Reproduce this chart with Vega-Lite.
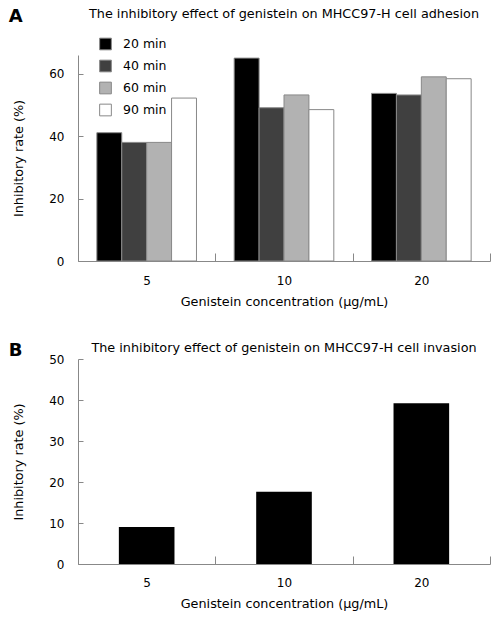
{
  "$schema": "https://vega.github.io/schema/vega-lite/v6.json",
  "background": "white",
  "padding": {"top": 8, "left": 8, "right": 5, "bottom": 5},
  "spacing": 34,
  "config": {
    "font": "DejaVu Sans",
    "view": {"stroke": null},
    "axis": {
      "domainColor": "#888888",
      "tickColor": "#888888",
      "labelColor": "black",
      "titleColor": "black",
      "labelFontSize": 12,
      "titleFontSize": 12.8,
      "titleFontWeight": "normal",
      "grid": false
    },
    "title": {"fontSize": 12.8, "fontWeight": "normal", "color": "black"}
  },
  "datasets": {
    "adhesion": [
      {"conc": "5", "time": "20 min", "rate": 41.1},
      {"conc": "5", "time": "40 min", "rate": 38.0},
      {"conc": "5", "time": "60 min", "rate": 38.0},
      {"conc": "5", "time": "90 min", "rate": 52.2},
      {"conc": "10", "time": "20 min", "rate": 65.0},
      {"conc": "10", "time": "40 min", "rate": 49.1},
      {"conc": "10", "time": "60 min", "rate": 53.2},
      {"conc": "10", "time": "90 min", "rate": 48.5},
      {"conc": "20", "time": "20 min", "rate": 53.7},
      {"conc": "20", "time": "40 min", "rate": 53.2},
      {"conc": "20", "time": "60 min", "rate": 59.0},
      {"conc": "20", "time": "90 min", "rate": 58.4}
    ],
    "invasion": [
      {"conc": "5", "rate": 9.0},
      {"conc": "10", "rate": 17.6},
      {"conc": "20", "rate": 39.2}
    ]
  },
  "vconcat": [
    {
      "title": {"text": "A", "anchor": "start", "fontSize": 18, "fontWeight": "bold", "dy": 22, "dx": -4},
      "vconcat": [
        {
          "width": 412,
          "height": 206,
          "title": {"text": "The inhibitory effect of genistein on MHCC97-H cell adhesion", "anchor": "middle", "offset": 34},
          "data": {"name": "adhesion"},
          "mark": {"type": "bar", "stroke": "#888888", "strokeWidth": 1},
          "encoding": {
            "x": {
              "field": "conc", "type": "ordinal", "sort": ["5", "10", "20"],
              "scale": {"paddingInner": 0, "paddingOuter": 0},
              "axis": {"labelAngle": 0, "tickBand": "extent", "tickSize": -8, "labelPadding": 22, "titlePadding": 9, "title": "Genistein concentration (μg/mL)"}
            },
            "xOffset": {
              "field": "time", "type": "nominal", "sort": ["20 min", "40 min", "60 min", "90 min"],
              "scale": {"paddingInner": 0, "paddingOuter": 0.757}
            },
            "y": {
              "field": "rate", "type": "quantitative",
              "scale": {"domain": [0, 66], "nice": false},
              "axis": {"values": [0, 20, 40, 60], "tickSize": -5, "labelPadding": 19, "titlePadding": 23, "title": "Inhibitory rate (%)"}
            },
            "fill": {
              "field": "time", "type": "nominal",
              "scale": {"domain": ["20 min", "40 min", "60 min", "90 min"], "range": ["#000000", "#404040", "#b2b2b2", "#ffffff"]},
              "legend": {
                "orient": "none", "legendX": 21, "legendY": -17.5, "title": null, "padding": 0,
                "symbolType": "square", "symbolSize": 137, "symbolStrokeColor": "#888888", "symbolStrokeWidth": 1,
                "labelFontSize": 12.5, "labelColor": "black", "labelOffset": 11, "rowPadding": 5
              }
            }
          }
        }
      ]
    },
    {
      "title": {"text": "B", "anchor": "start", "fontSize": 18, "fontWeight": "bold", "dy": 22, "dx": -4},
      "vconcat": [
        {
          "width": 412,
          "height": 205,
          "title": {"text": "The inhibitory effect of genistein on MHCC97-H cell invasion", "anchor": "middle", "offset": -2},
          "data": {"name": "invasion"},
          "mark": {"type": "bar", "color": "#000000", "width": {"band": 0.405}},
          "encoding": {
            "x": {
              "field": "conc", "type": "ordinal", "sort": ["5", "10", "20"],
              "scale": {"paddingInner": 0, "paddingOuter": 0},
              "axis": {"labelAngle": 0, "tickBand": "extent", "tickSize": -8, "labelPadding": 21, "titlePadding": 9, "title": "Genistein concentration (μg/mL)"}
            },
            "y": {
              "field": "rate", "type": "quantitative",
              "scale": {"domain": [0, 50], "nice": false},
              "axis": {"values": [0, 10, 20, 30, 40, 50], "tickSize": -5, "labelPadding": 19, "titlePadding": 23, "title": "Inhibitory rate (%)"}
            }
          }
        }
      ]
    }
  ]
}
